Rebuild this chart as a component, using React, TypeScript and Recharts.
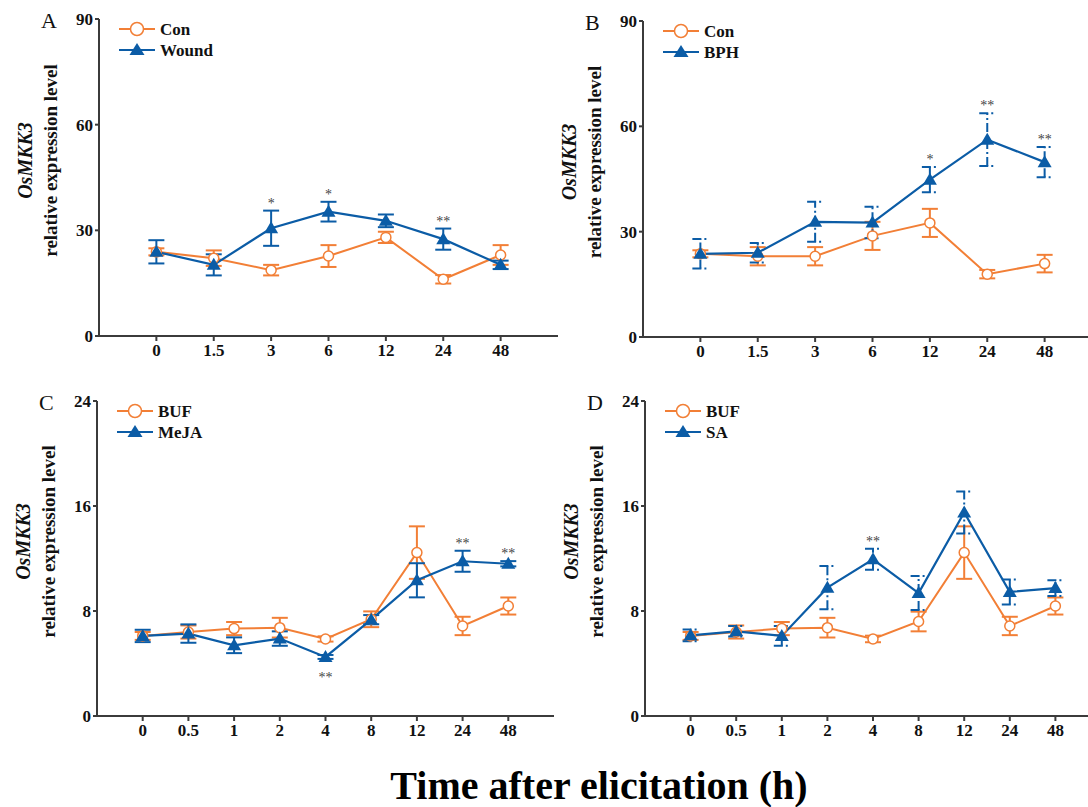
import React from 'react';
import { ComposedChart, Line, XAxis, YAxis, ErrorBar, LabelList } from 'recharts';

const ORANGE = '#F27F36';
const BLUE = '#0B5CA6';
const AXIS = '#3b3b3b';
const SERIF = '"Liberation Serif", "Times New Roman", serif';

// A: wounding
const timesAB = ['0', '1.5', '3', '6', '12', '24', '48'];
const conA = [23.9, 22.1, 18.7, 22.7, 28.0, 16.1, 23.0];
const conAErr = [1.0, 2.2, 1.5, 3.1, 1.6, 1.2, 2.8];
const woundA = [23.9, 20.2, 30.6, 35.3, 32.7, 27.5, 20.2];
const woundAErr = [3.3, 3.0, 5.0, 2.8, 1.8, 3.0, 1.2];
const starsA = ['', '', '*', '*', '', '**', ''];

// B: BPH infestation
const conB = [23.7, 23.0, 23.0, 28.8, 32.5, 17.9, 20.9];
const conBErr = [1.0, 2.6, 2.6, 4.0, 4.0, 1.2, 2.5];
const bphB = [23.7, 24.0, 32.8, 32.6, 44.8, 56.2, 49.8];
const bphBErr = [4.2, 2.8, 5.7, 4.5, 3.6, 7.5, 4.3];
const starsB = ['', '', '', '', '*', '**', '**'];

// C: MeJA
const timesCD = ['0', '0.5', '1', '2', '4', '8', '12', '24', '48'];
const bufC = [6.1, 6.4, 6.66, 6.73, 5.87, 7.37, 12.45, 6.86, 8.38];
const bufCErr = [0.3, 0.5, 0.5, 0.75, 0.2, 0.6, 2.0, 0.7, 0.65];
const mejaC = [6.1, 6.28, 5.39, 5.9, 4.5, 7.34, 10.34, 11.79, 11.6];
const mejaCErr = [0.47, 0.7, 0.6, 0.55, 0.15, 0.35, 1.3, 0.8, 0.2];
const starsCUp = ['', '', '', '', '', '', '', '**', '**'];
const starsCDown = ['', '', '', '', '**', '', '', '', ''];

// D: SA
const bufD = [6.1, 6.4, 6.66, 6.73, 5.87, 7.2, 12.45, 6.86, 8.38];
const bufDErr = [0.3, 0.5, 0.5, 0.75, 0.25, 0.75, 2.0, 0.7, 0.65];
const saD = [6.15, 6.45, 6.1, 9.78, 11.94, 9.37, 15.5, 9.45, 9.75];
const saDErr = [0.45, 0.4, 0.75, 1.65, 0.8, 1.3, 1.6, 0.95, 0.6];
const starsD = ['', '', '', '', '**', '', '', '', ''];

const noStars = (n: number) => Array(n).fill('');

const ticks90 = [0, 30, 60, 90];
const ticks24 = [0, 8, 16, 24];

function buildRows(times, ctrl, ctrlErr, trt, trtErr, starsUp, starsDown) {
  return times.map((t, i) => ({
    idx: i,
    ctrl: ctrl[i],
    ctrlErr: ctrlErr[i],
    trt: trt[i],
    trtErr: trtErr[i],
    starUp: starsUp[i] ? trt[i] + trtErr[i] : null,
    starUpText: starsUp[i],
    starDown: starsDown[i] ? trt[i] - trtErr[i] : null,
    starDownText: starsDown[i],
  }));
}

const Triangle = (props: any) => {
  const { cx, cy, index } = props;
  if (cx == null || cy == null) return <g key={index} />;
  return (
    <path
      key={index}
      d={`M${cx},${cy - 7}L${cx + 7},${cy + 5}L${cx - 7},${cy + 5}Z`}
      fill={BLUE}
    />
  );
};

const starLabel = (dir: 'up' | 'down') => (props: any) => {
  const { x, y, value } = props;
  if (!value || x == null || y == null) return null;
  return (
    <text
      x={x}
      y={dir === 'up' ? y - 3 : y + 23}
      textAnchor="middle"
      fontSize={14}
      fill="#444"
      fontFamily={SERIF}
    >
      {value}
    </text>
  );
};

function Panel({ letter, times, ctrl, ctrlErr, trt, trtErr, starsUp, starsDown, names, yMax, yTicks, dashed, box }) {
  const data = buildRows(times, ctrl, ctrlErr, trt, trtErr, starsUp, starsDown);
  const { left, top, width, height, mTop, yW } = box;
  const plotLeft = yW;
  const plotTop = mTop;
  const plotBottom = height - 44;
  const cy = (plotTop + plotBottom) / 2 - 17;
  const tickStyle = { fill: '#111', fontSize: 17, fontWeight: 700, fontFamily: SERIF };

  return (
    <div style={{ position: 'absolute', left, top, width, height }}>
      <ComposedChart width={width} height={height} data={data} margin={{ top: mTop, right: 2, bottom: 0, left: 0 }}>
        <XAxis
          type="number"
          dataKey="idx"
          domain={[-1, times.length]}
          ticks={times.map((_, i) => i)}
          tickFormatter={(v) => times[v] ?? ''}
          interval={0}
          height={44}
          stroke={AXIS}
          strokeWidth={2}
          tickSize={5}
          tickMargin={3}
          tick={tickStyle}
        />
        <YAxis
          domain={[0, yMax]}
          ticks={yTicks}
          interval={0}
          width={yW}
          stroke={AXIS}
          strokeWidth={2}
          tickSize={4}
          tickMargin={2}
          tick={tickStyle}
        />
        <Line
          dataKey="ctrl"
          stroke={ORANGE}
          strokeWidth={2}
          dot={{ r: 5, fill: '#fff', stroke: ORANGE, strokeWidth: 1.5 }}
          activeDot={false}
          isAnimationActive={false}
        >
          <ErrorBar dataKey="ctrlErr" direction="y" width={8} stroke={ORANGE} strokeWidth={2} />
        </Line>
        <Line
          dataKey="trt"
          stroke={BLUE}
          strokeWidth={2.2}
          dot={Triangle}
          activeDot={false}
          isAnimationActive={false}
        >
          <ErrorBar
            dataKey="trtErr"
            direction="y"
            width={8}
            stroke={BLUE}
            strokeWidth={2}
            strokeDasharray={dashed ? '9 3 2 3' : undefined}
          />
        </Line>
        <Line dataKey="starUp" stroke="none" dot={false} activeDot={false} isAnimationActive={false}>
          <LabelList dataKey="starUpText" content={starLabel('up')} />
        </Line>
        <Line dataKey="starDown" stroke="none" dot={false} activeDot={false} isAnimationActive={false}>
          <LabelList dataKey="starDownText" content={starLabel('down')} />
        </Line>
      </ComposedChart>
      <svg
        width={width}
        height={height}
        style={{ position: 'absolute', left: 0, top: 0, pointerEvents: 'none', overflow: 'visible' }}
        fontFamily={SERIF}
      >
        <text x={plotLeft - 58} y={plotTop + 9} fontSize={22} fill="#111">
          {letter}
        </text>
        <text
          x={plotLeft - 74}
          y={cy}
          transform={`rotate(-90, ${plotLeft - 74}, ${cy})`}
          textAnchor="middle"
          dominantBaseline="central"
          fontSize={20}
          fontWeight={700}
          fontStyle="italic"
          fill="#111"
        >
          OsMKK3
        </text>
        <text
          x={plotLeft - 49}
          y={cy}
          transform={`rotate(-90, ${plotLeft - 49}, ${cy})`}
          textAnchor="middle"
          dominantBaseline="central"
          fontSize={19}
          fontWeight={700}
          fill="#111"
        >
          relative expression level
        </text>
        {/* legend */}
        <line x1={plotLeft + 20} x2={plotLeft + 56} y1={plotTop + 10} y2={plotTop + 10} stroke={ORANGE} strokeWidth={2} />
        <circle cx={plotLeft + 38} cy={plotTop + 10} r={6.5} fill="#fff" stroke={ORANGE} strokeWidth={1.5} />
        <text x={plotLeft + 61} y={plotTop + 16} fontSize={17} fontWeight={700} fill="#111">
          {names[0]}
        </text>
        <line x1={plotLeft + 20} x2={plotLeft + 56} y1={plotTop + 31} y2={plotTop + 31} stroke={BLUE} strokeWidth={2} />
        <path
          d={`M${plotLeft + 38},${plotTop + 24}L${plotLeft + 45.5},${plotTop + 36}L${plotLeft + 30.5},${plotTop + 36}Z`}
          fill={BLUE}
        />
        <text x={plotLeft + 61} y={plotTop + 37} fontSize={17} fontWeight={700} fill="#111">
          {names[1]}
        </text>
      </svg>
    </div>
  );
}

export default function App() {
  return (
    <div
      style={{
        position: 'fixed',
        left: 0,
        top: 0,
        width: 1088,
        height: 807,
        overflow: 'hidden',
        background: '#fff',
        fontFamily: SERIF,
      }}
    >
      <Panel
        letter="A"
        times={timesAB}
        ctrl={conA}
        ctrlErr={conAErr}
        trt={woundA}
        trtErr={woundAErr}
        starsUp={starsA}
        starsDown={noStars(7)}
        names={['Con', 'Wound']}
        yMax={90}
        yTicks={ticks90}
        dashed={false}
        box={{ left: 0, top: 0, width: 560, height: 380, mTop: 19, yW: 99 }}
      />
      <Panel
        letter="B"
        times={timesAB}
        ctrl={conB}
        ctrlErr={conBErr}
        trt={bphB}
        trtErr={bphBErr}
        starsUp={starsB}
        starsDown={noStars(7)}
        names={['Con', 'BPH']}
        yMax={90}
        yTicks={ticks90}
        dashed={true}
        box={{ left: 544, top: 0, width: 560, height: 381, mTop: 21, yW: 99 }}
      />
      <Panel
        letter="C"
        times={timesCD}
        ctrl={bufC}
        ctrlErr={bufCErr}
        trt={mejaC}
        trtErr={mejaCErr}
        starsUp={starsCUp}
        starsDown={starsCDown}
        names={['BUF', 'MeJA']}
        yMax={24}
        yTicks={ticks24}
        dashed={false}
        box={{ left: 0, top: 380, width: 556, height: 380, mTop: 21, yW: 97 }}
      />
      <Panel
        letter="D"
        times={timesCD}
        ctrl={bufD}
        ctrlErr={bufDErr}
        trt={saD}
        trtErr={saDErr}
        starsUp={starsD}
        starsDown={noStars(9)}
        names={['BUF', 'SA']}
        yMax={24}
        yTicks={ticks24}
        dashed={true}
        box={{ left: 546, top: 380, width: 557, height: 380, mTop: 21, yW: 99 }}
      />
      <svg width={1088} height={807} style={{ position: 'absolute', left: 0, top: 0, pointerEvents: 'none' }}>
        <text x={599} y={799} textAnchor="middle" fontFamily={SERIF} fontSize={40} fontWeight={700} fill="#000">
          Time after elicitation (h)
        </text>
      </svg>
    </div>
  );
}
